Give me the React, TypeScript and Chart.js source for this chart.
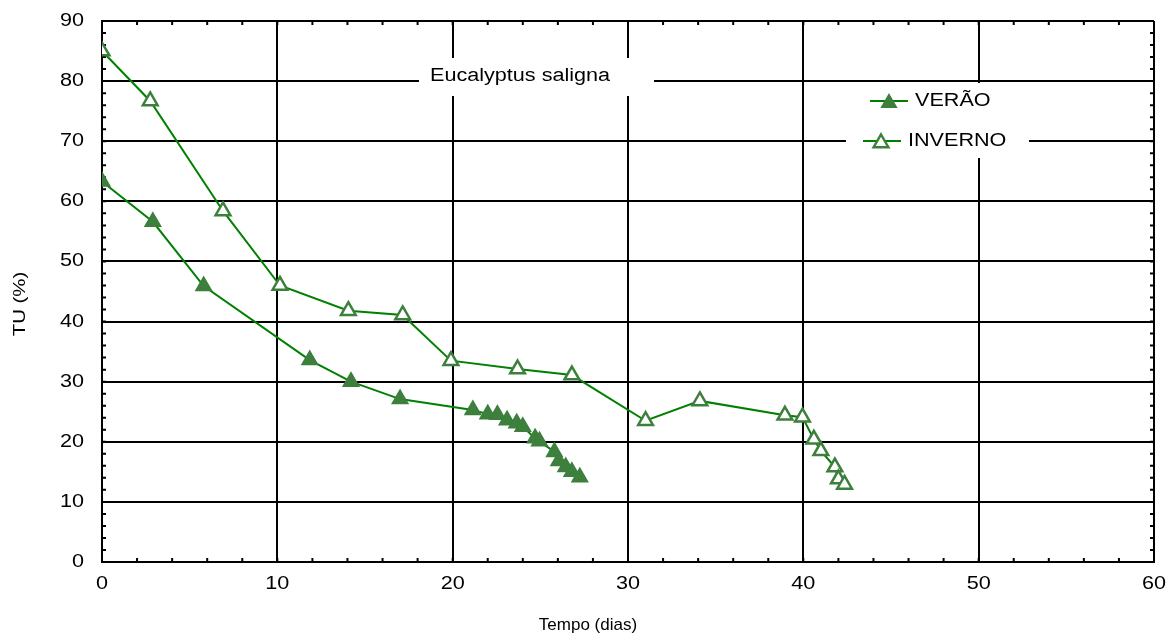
import React, { useEffect, useRef } from 'react';
import { Chart, registerables } from 'chart.js';
Chart.register(...registerables);

// ---- data ----
const verX = [0, 2.9, 5.8, 11.85, 14.2, 17.0, 21.15, 22.0, 22.55, 23.1, 23.65, 24.0, 24.7, 24.95, 25.8, 26.05, 26.45, 26.8, 27.25];
const verY = [63.3, 56.6, 45.9, 33.6, 30.0, 27.1, 25.3, 24.6, 24.5, 23.6, 23.1, 22.5, 20.6, 20.1, 18.3, 16.8, 15.8, 15.0, 14.1];
const invX = [0, 2.75, 6.9, 10.15, 14.05, 17.15, 19.9, 23.7, 26.8, 31.0, 34.1, 38.95, 39.95, 40.6, 41.0, 41.8, 42.0, 42.35];
const invY = [85.0, 76.7, 58.4, 46.0, 41.8, 41.1, 33.5, 32.1, 31.1, 23.5, 26.8, 24.4, 24.1, 20.4, 18.5, 15.8, 13.8, 12.9];
const xTicks = [0, 10, 20, 30, 40, 50, 60];
const yTicks = [0, 10, 20, 30, 40, 50, 60, 70, 80, 90];
const seriesNames = ['VERÃO', 'INVERNO'];
const chartTitle = 'Eucalyptus saligna';
const xTitle = 'Tempo (dias)';
const yTitle = 'TU (%)';

const LINE = '#008000';
const MARK = '#3D7F3D';
const FONT = '"Liberation Sans", Arial, sans-serif';

function sText(ctx: CanvasRenderingContext2D, text: string, x: number, y: number, align: CanvasTextAlign, size: number, sx: number, rotate = false) {
  ctx.save();
  ctx.translate(x, y);
  if (rotate) ctx.rotate(-Math.PI / 2);
  ctx.scale(sx, 1);
  ctx.font = `${size}px ${FONT}`;
  ctx.fillStyle = '#000';
  ctx.textAlign = align;
  ctx.textBaseline = 'middle';
  ctx.fillText(text, 0, 0);
  ctx.restore();
}

function tri(ctx: CanvasRenderingContext2D, x: number, y: number, r: number, filled: boolean) {
  ctx.save();
  ctx.beginPath();
  ctx.moveTo(x, y - r);
  ctx.lineTo(x + 0.866 * r, y + 0.5 * r);
  ctx.lineTo(x - 0.866 * r, y + 0.5 * r);
  ctx.closePath();
  if (filled) {
    ctx.fillStyle = MARK;
    ctx.fill();
    ctx.lineWidth = 1.5;
    ctx.strokeStyle = MARK;
    ctx.stroke();
  } else {
    ctx.fillStyle = '#fff';
    ctx.fill();
    ctx.lineWidth = 2.5;
    ctx.strokeStyle = MARK;
    ctx.stroke();
  }
  ctx.restore();
}

const decor = {
  id: 'decor',
  beforeDatasetsDraw(chart: any) {
    const ctx = chart.ctx as CanvasRenderingContext2D;
    const { left, right, top, bottom } = chart.chartArea;
    const xs = chart.scales.x;
    const ys = chart.scales.y;
    ctx.save();
    ctx.strokeStyle = '#000';
    ctx.lineWidth = 2;
    ctx.beginPath();
    for (let v = 0; v <= 60; v += 2) {
      const px = xs.getPixelForValue(v);
      ctx.moveTo(px, bottom); ctx.lineTo(px, bottom - 4);
      ctx.moveTo(px, top); ctx.lineTo(px, top + 4);
    }
    for (let v = 0; v <= 90; v += 2) {
      const py = ys.getPixelForValue(v);
      ctx.moveTo(left, py); ctx.lineTo(left + 4, py);
      ctx.moveTo(right, py); ctx.lineTo(right - 4, py);
    }
    ctx.stroke();
    // white boxes for title and legend
    ctx.fillStyle = '#fff';
    ctx.fillRect(419, 58, 235, 38);
    ctx.fillRect(846, 83, 183, 75);
    ctx.restore();
  },
  afterDraw(chart: any) {
    const ctx = chart.ctx as CanvasRenderingContext2D;
    const xs = chart.scales.x;
    const ys = chart.scales.y;
    yTicks.forEach((v) => sText(ctx, String(v), 84, ys.getPixelForValue(v), 'right', 18, 1.2));
    xTicks.forEach((v) => sText(ctx, String(v), xs.getPixelForValue(v), 584, 'center', 18, 1.2));
    sText(ctx, xTitle, 588, 625, 'center', 17, 1.0);
    sText(ctx, yTitle, 20, 304, 'center', 17, 1.2, true);
    sText(ctx, chartTitle, 430, 76, 'left', 18, 1.2);
    // legend
    ctx.save();
    ctx.strokeStyle = LINE;
    ctx.lineWidth = 2;
    ctx.beginPath();
    ctx.moveTo(870, 101); ctx.lineTo(908, 101);
    ctx.moveTo(863, 141); ctx.lineTo(901, 141);
    ctx.stroke();
    ctx.restore();
    tri(ctx, 889, 103, 8.5, true);
    tri(ctx, 881, 143, 8.5, false);
    sText(ctx, seriesNames[0], 915, 101, 'left', 18, 1.2);
    sText(ctx, seriesNames[1], 908, 141, 'left', 18, 1.2);
  },
};

export default function App() {
  const ref = useRef<HTMLCanvasElement>(null);
  useEffect(() => {
    if (!ref.current) return;
    const chart = new Chart(ref.current, {
      type: 'line',
      data: {
        datasets: [
          {
            label: seriesNames[0],
            data: verX.map((x, i) => ({ x, y: verY[i] })),
            borderColor: LINE,
            borderWidth: 2,
            pointStyle: 'triangle',
            pointRadius: 9,
            pointBackgroundColor: MARK,
            pointBorderColor: MARK,
            pointBorderWidth: 1.5,
            tension: 0,
          },
          {
            label: seriesNames[1],
            data: invX.map((x, i) => ({ x, y: invY[i] })),
            borderColor: LINE,
            borderWidth: 2,
            pointStyle: 'triangle',
            pointRadius: 8.5,
            pointBackgroundColor: '#fff',
            pointBorderColor: MARK,
            pointBorderWidth: 2.5,
            tension: 0,
          },
        ],
      },
      options: {
        responsive: false,
        animation: false,
        layout: { padding: { left: 102, right: 19, top: 21, bottom: 77 } },
        plugins: { legend: { display: false }, tooltip: { enabled: false } },
        scales: {
          x: {
            type: 'linear',
            min: 0,
            max: 60,
            ticks: { stepSize: 10, display: false },
            grid: { color: '#000', lineWidth: 2, drawTicks: false },
            border: { display: true, color: '#000', width: 2 },
            afterFit: (s: any) => { s.height = 0; },
          },
          y: {
            type: 'linear',
            min: 0,
            max: 90,
            ticks: { stepSize: 10, display: false },
            grid: { color: '#000', lineWidth: 2, drawTicks: false },
            border: { display: true, color: '#000', width: 2 },
            afterFit: (s: any) => { s.width = 0; },
          },
        },
      },
      plugins: [decor],
    } as any);
    return () => chart.destroy();
  }, []);
  return (
    <div style={{ position: 'fixed', left: 0, top: 0, width: 1173, height: 639, background: '#fff' }}>
      <canvas ref={ref} width={1173} height={639} style={{ display: 'block' }} />
    </div>
  );
}
